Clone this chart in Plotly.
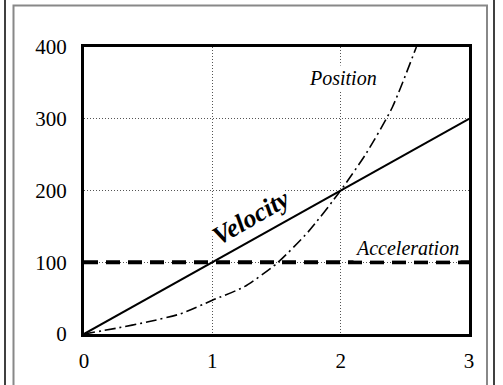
import plotly.graph_objects as go

# ---- data ----
time_line = [0, 3]
velocity = [0, 300]
acceleration = [100, 100]

pos_time = [0, 0.25, 0.5, 0.75, 1.0, 1.25, 1.5, 1.75, 2.0, 2.2, 2.4, 2.59]
position = [0, 8, 17, 28, 47, 66, 98, 143, 200, 252, 315, 400]

x_ticks = [0, 1, 2, 3]
y_ticks = [0, 100, 200, 300, 400]

W, H = 503, 385
L, R, T, B = 84, 469, 47, 334  # plot area in pixels


def px(x):
    return (x - L) / (R - L)


def py(y):
    return (B - y) / (B - T)


SERIF = "Liberation Serif, Times New Roman, Times, Tinos, DejaVu Serif, serif"

fig = go.Figure()
fig.add_trace(go.Scatter(x=time_line, y=acceleration, mode="lines",
                         line=dict(color="black", width=4, dash="14px,8px"),
                         hoverinfo="skip"))
fig.add_trace(go.Scatter(x=pos_time, y=position, mode="lines",
                         line=dict(color="black", width=1.6, dash="11px,4px,2px,4px",
                                   shape="spline", smoothing=0.6),
                         hoverinfo="skip"))
fig.add_trace(go.Scatter(x=time_line, y=velocity, mode="lines",
                         line=dict(color="black", width=2),
                         hoverinfo="skip"))

fig.update_layout(
    width=W, height=H,
    margin=dict(l=L, r=W - R, t=T, b=H - B, pad=0),
    paper_bgcolor="white", plot_bgcolor="white",
    showlegend=False,
    font=dict(family=SERIF, size=20, color="black"),
    xaxis=dict(range=[0, 3], tickvals=x_ticks, ticks="", showline=True,
               linecolor="black", linewidth=3, mirror=True,
               showgrid=True, gridcolor="#555", griddash="1px,2px", gridwidth=1,
               zeroline=False, ticklabelstandoff=6,
               tickfont=dict(family=SERIF, size=21)),
    yaxis=dict(range=[0, 400], tickvals=y_ticks, ticks="", showline=True,
               linecolor="black", linewidth=3, mirror=True,
               showgrid=True, gridcolor="#555", griddash="1px,2px", gridwidth=1,
               zeroline=False, ticklabelstandoff=10,
               tickfont=dict(family=SERIF, size=21)),
)

fig.add_annotation(x=2.02, y=357, text="<i>Position</i>", showarrow=False,
                   font=dict(family=SERIF, size=20), bgcolor="white")
fig.add_annotation(x=2.52, y=120, text="<i>Acceleration</i>", showarrow=False,
                   font=dict(family=SERIF, size=20), bgcolor="white")
fig.add_annotation(x=1.30, y=162, text="<b><i>Velocity</i></b>", showarrow=False,
                   textangle=-30, font=dict(family=SERIF, size=26),
                   bgcolor="white", borderpad=0)

# outer decorative frame
fig.add_shape(type="rect", xref="paper", yref="paper",
              x0=px(13.5), x1=px(487), y0=py(420), y1=py(5.5),
              line=dict(color="#888", width=2), layer="below")
for xv in (5, 494):
    fig.add_shape(type="line", xref="paper", yref="paper",
                  x0=px(xv), x1=px(xv), y0=py(420), y1=py(-10),
                  line=dict(color="black", width=1.5))

fig.write_html(
    "out.html",
    config={"displayModeBar": False},
    post_script="document.body.style.margin='0';document.body.style.overflow='hidden';",
)
